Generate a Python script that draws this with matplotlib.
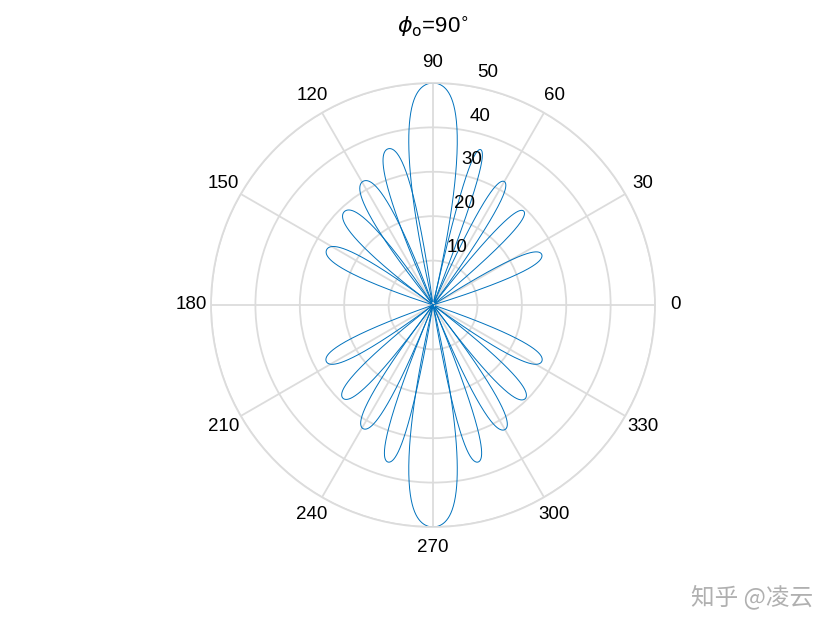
import numpy as np
import matplotlib.pyplot as plt

# lobes: direction (deg), peak value, half width to null (deg)
lobe_angle = [90, 270,
              73, 60, 46, 25,
              106, 119.5, 133.5, 152.5,
              254, 240.5, 226, 208,
              286, 300, 314.5, 332.5]
lobe_peak = [50, 50,
             36.6, 32.1, 29.4, 27.0,
             36.6, 32.0, 29.0, 27.0,
             36.8, 32.0, 29.2, 27.2,
             36.8, 32.4, 29.6, 27.6]
lobe_halfwidth = [13, 13,
                  4.4, 6.0, 6.2, 7.7,
                  8.2, 9.2, 9.7, 9.5,
                  6.4, 7.6, 8.0, 8.6,
                  6.4, 7.6, 8.0, 8.6]

angle_ticks = [0, 30, 60, 90, 120, 150, 180, 210, 240, 270, 300, 330]
r_ticks = [10, 20, 30, 40, 50]

plt.rcParams['font.family'] = ['Liberation Sans', 'DejaVu Sans']

fig = plt.figure(figsize=(8.4, 6.3), dpi=100)
ax = fig.add_axes([0.2512, 0.1635, 0.5286, 0.7048], projection='polar')

blue = '#0072BD'
grey = '#DCDCDC'

for t0, p, h in zip(lobe_angle, lobe_peak, lobe_halfwidth):
    th = np.linspace(t0 - h, t0 + h, 300)
    u = (th - t0) / h
    # petal profile: rounded tip, straight sides into the centre
    r = p * (1 - 0.32 * u ** 2 - 0.68 * u ** 4)
    ax.plot(np.deg2rad(th), r, color=blue, lw=0.7)

ax.set_ylim(0, 50)
ax.set_rticks(r_ticks)
ax.set_yticklabels([])
ax.set_thetagrids(angle_ticks, [str(a) for a in angle_ticks])
ax.tick_params(axis='x', pad=4, labelsize=13.5)
ax.grid(True, color=grey, lw=1.3)
ax.spines['polar'].set_color(grey)
ax.spines['polar'].set_linewidth(1.3)

for r in r_ticks:
    ax.annotate(str(r), xy=(np.deg2rad(80), r), xytext=(4, 4),
                textcoords='offset points', ha='left', va='bottom',
                fontsize=13.5)

fig.text(0.515, 0.958, r'$\phi_{\rm o}$=90$^{\circ}$', fontsize=16,
         ha='center', va='center')

fig.text(0.895, 0.052, '知乎 @凌云', fontsize=17, color='#B0B0B0',
         ha='center', va='center',
         family=['Noto Sans CJK SC', 'DejaVu Sans'])

fig.savefig('out.png', dpi=100)
